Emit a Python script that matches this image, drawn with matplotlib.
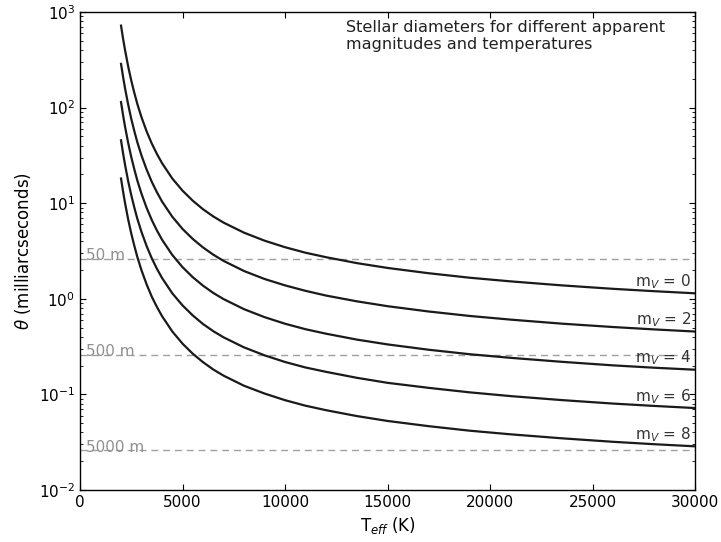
import numpy as np
import matplotlib
matplotlib.use('Agg')
import matplotlib.pyplot as plt

# effective temperature grid (K)
teff = [2000, 2100, 2200, 2350, 2500, 2650, 2800, 3000, 3250, 3500, 3750, 4000,
        4500, 5000, 5500, 6000, 6500, 7000, 8000, 9000, 10000, 11000, 12000,
        13500, 15000, 17000, 19000, 21000, 23500, 26000, 28000, 30000]

# angular diameters (mas), one list per apparent magnitude
theta_m0 = [719, 524, 394, 268, 191, 142, 108, 79.0, 56.2, 42.0, 32.7, 26.2,
            18.1, 13.5, 10.6, 8.63, 7.26, 6.26, 4.91, 4.05, 3.46, 3.03, 2.72,
            2.36, 2.10, 1.85, 1.66, 1.52, 1.38, 1.27, 1.20, 1.14]
theta_m2 = [286, 209, 157, 107, 76.0, 56.5, 43.0, 31.4, 22.4, 16.7, 13.0, 10.4,
            7.21, 5.37, 4.22, 3.44, 2.89, 2.49, 1.95, 1.61, 1.38, 1.21, 1.08,
            0.940, 0.836, 0.736, 0.661, 0.605, 0.549, 0.506, 0.478, 0.454]
theta_m4 = [114, 83.0, 62.4, 42.5, 30.3, 22.5, 17.1, 12.5, 8.91, 6.66, 5.18, 4.15,
            2.87, 2.14, 1.68, 1.37, 1.15, 0.992, 0.778, 0.642, 0.548, 0.480, 0.431,
            0.374, 0.333, 0.293, 0.263, 0.241, 0.219, 0.201, 0.190, 0.181]
theta_m6 = [45.4, 33.1, 24.9, 16.9, 12.1, 8.96, 6.81, 4.98, 3.55, 2.65, 2.06, 1.65,
            1.14, 0.852, 0.669, 0.544, 0.458, 0.395, 0.310, 0.256, 0.218, 0.191, 0.172,
            0.149, 0.132, 0.117, 0.105, 0.0959, 0.0871, 0.0801, 0.0757, 0.0719]
theta_m8 = [18.1, 13.2, 9.90, 6.73, 4.80, 3.57, 2.71, 1.98, 1.41, 1.05, 0.821, 0.658,
            0.455, 0.339, 0.266, 0.217, 0.182, 0.157, 0.123, 0.102, 0.0869, 0.0761, 0.0683,
            0.0593, 0.0527, 0.0465, 0.0417, 0.0382, 0.0347, 0.0319, 0.0301, 0.0286]
mags = [0, 2, 4, 6, 8]

# resolution limits for different baselines (mas)
baselines = ['50 m', '500 m', '5000 m']
limits = [2.6, 0.26, 0.026]

plt.rcParams['xtick.direction'] = 'in'
plt.rcParams['ytick.direction'] = 'in'
plt.rcParams['xtick.top'] = True
plt.rcParams['ytick.right'] = True
plt.rcParams['xtick.major.size'] = 4
plt.rcParams['ytick.major.size'] = 4
plt.rcParams['ytick.minor.size'] = 2
plt.rcParams['axes.linewidth'] = 1.0

fig = plt.figure(figsize=(7.21, 5.42), dpi=100)
ax = fig.add_axes([0.111, 0.096, 0.853, 0.882])

for lim, name in zip(limits, baselines):
    ax.axhline(lim, color='#a0a0a0', lw=1.0, ls=(0, (5, 3.5)), zorder=1)
    ax.text(300, lim * 0.97, name, color='#909090', fontsize=11, va='baseline',
            ha='left', zorder=2)

curves = [theta_m0, theta_m2, theta_m4, theta_m6, theta_m8]
for m, th in zip(mags, curves):
    ax.plot(teff, th, color='#1a1a1a', lw=1.6, zorder=3)
    ax.text(29800, th[-1] * 1.06, r'm$_V$ = %d' % m, fontsize=11, color='#333333',
            ha='right', va='bottom', zorder=4)

ax.set_yscale('log')
ax.set_xlim(0, 30000)
ax.set_ylim(1e-2, 1e3)
ax.set_xticks([0, 5000, 10000, 15000, 20000, 25000, 30000])
ax.tick_params(labelsize=11)
ax.set_xlabel(r'T$_{eff}$ (K)', fontsize=12)
ax.set_ylabel(r'$\theta$ (milliarcseconds)', fontsize=12)

ax.text(0.433, 0.984, 'Stellar diameters for different apparent\nmagnitudes and temperatures',
        transform=ax.transAxes, fontsize=11.6, color='#222222', ha='left', va='top',
        linespacing=1.2)

fig.savefig('out.png', dpi=100)
